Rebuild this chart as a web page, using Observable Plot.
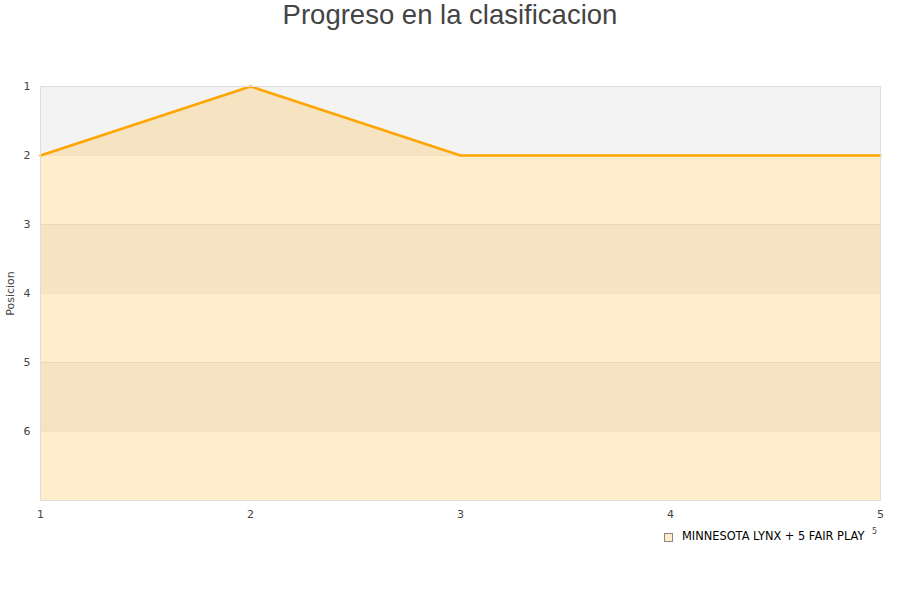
<!DOCTYPE html>
<html>
<head>
<meta charset="utf-8">
<script src="https://cdn.jsdelivr.net/npm/d3@7"></script>
<script src="https://cdn.jsdelivr.net/npm/@observablehq/plot@0.6"></script>
<style>
  body { margin: 0; background: #fff; font-family: "DejaVu Sans", sans-serif; }
  #title { height: 30px; line-height: 30px; text-align: center; font-size: 27.5px; color: #444; font-family: "Liberation Sans", Arial, sans-serif; }
  #chart { position: relative; width: 900px; }
  #legend { position: relative; height: 20px; font-size: 11.4px; color: #000; }
  #legend .sw { position: absolute; left: 664px; top: 3px; width: 7px; height: 7px; background: #ffecc9; border: 1px solid #888; }
  #legend .lbl { position: absolute; left: 682px; top: -1px; }
  #legend .sup { position: absolute; left: 872px; top: -3px; font-size: 8px; color: #444; }
</style>
</head>
<body>
<div id="title">Progreso en la clasificacion</div>
<div id="chart"></div>
<div id="legend"><span class="sw"></span><span class="lbl">MINNESOTA LYNX + 5 FAIR PLAY</span><span class="sup">5</span></div>
<script>
const jornadas = [1, 2, 3, 4, 5]
const posiciones = [2, 1, 2, 2, 2]
const yTicks = [1, 2, 3, 4, 5, 6]
const bandas = [1, 2, 3, 4, 5, 6]
const ultimo = 7

const data = jornadas.map((j, i) => ({jornada: j, pos: posiciones[i]}))
const bands = bandas.map((b, i) => ({y1: b, y2: b + 1, fill: i % 2 === 0 ? '#f3f3f3' : '#ffffff'}))

const chart = Plot.plot({
  width: 900,
  height: 500,
  marginTop: 56,
  marginBottom: 30,
  marginLeft: 40,
  marginRight: 20,
  style: {fontFamily: '"DejaVu Sans", sans-serif', fontSize: '11px', color: '#444'},
  x: {domain: [1, 5], ticks: jornadas, tickFormat: d3.format('d'), tickSize: 0, tickPadding: 10, label: null},
  y: {domain: [1, ultimo], reverse: true, ticks: yTicks, tickFormat: d3.format('d'), tickSize: 0, tickPadding: 10, label: 'Posicion', labelArrow: false, labelAnchor: 'center', labelOffset: 34},
  marks: [
    Plot.rect(bands, {x1: 1, x2: 5, y1: 'y1', y2: 'y2', fill: 'fill'}),
    Plot.ruleY(yTicks.filter(d => d > 1), {stroke: '#000', strokeOpacity: 0.06}),
    Plot.areaY(data, {x: 'jornada', y1: ultimo, y2: 'pos', fill: 'orange', fillOpacity: 0.2}),
    Plot.line(data, {x: 'jornada', y: 'pos', stroke: 'orange', strokeWidth: 2.5}),
    Plot.frame({stroke: '#ddd'})
  ]
})

d3.select('#chart').append(() => chart)
</script>
</body>
</html>
